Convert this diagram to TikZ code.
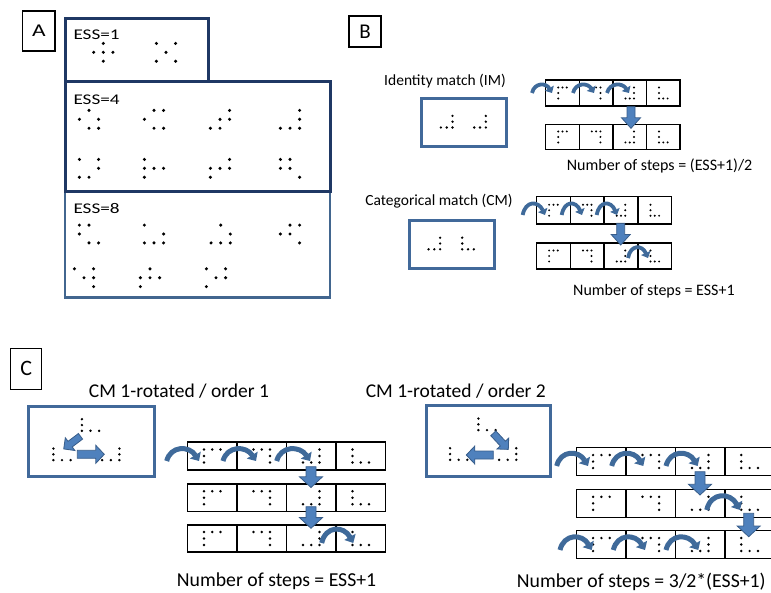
\documentclass[tikz,border=0pt]{standalone}
\usepackage{fontspec}
\setmainfont{Carlito}
\usetikzlibrary{arrows.meta}
\definecolor{navy}{HTML}{1F3864}
\definecolor{essblue}{HTML}{42668F}
\definecolor{boxblue}{HTML}{41699A}
\definecolor{arcblue}{HTML}{3F6A9A}
\definecolor{arrfill}{HTML}{4F81BD}
\definecolor{arrline}{HTML}{385D8A}
\def\TL{0/0,1/0,2/0,0/1,0/2}
\def\TR{0/0,1/0,2/0,2/1,2/2}
\def\BR{2/0,2/1,0/2,1/2,2/2}
\def\BL{0/0,0/1,0/2,1/2,2/2}
% cx cy dx dy r list
\newcommand{\dotpat}[6]{\foreach \px/\py in #6 {\fill (#1+\px*#3-#3, #2+\py*#4-#4) circle (#5pt);}}
% x0 y0 cellw h dx dy r
\newcommand{\tapeRow}[7]{%
  \draw[tapeline] (#1,#2) rectangle ++(4*#3,#4);
  \foreach \k in {1,2,3} {\draw[tapeline] (#1+\k*#3,#2) -- ++(0,#4);}
  \dotpat{#1+0.5*#3}{#2+0.5*#4}{#5}{#6}{#7}{\TL}
  \dotpat{#1+1.5*#3}{#2+0.5*#4}{#5}{#6}{#7}{\TR}
  \dotpat{#1+2.5*#3}{#2+0.5*#4}{#5}{#6}{#7}{\BR}
  \dotpat{#1+3.5*#3}{#2+0.5*#4}{#5}{#6}{#7}{\BL}}
% x y angle len shaftw headw headlen
\newcommand{\barrow}[7]{\filldraw[barrowst, shift={(#1,#2)}, rotate=#3] (0,-#5/2) -- (#4-#7,-#5/2) -- (#4-#7,-#6/2) -- (#4,0) -- (#4-#7,#6/2) -- (#4-#7,#5/2) -- (0,#5/2) -- cycle;}
% x0 x1 ybase ycontrol style
\newcommand{\carc}[5]{\draw[#5] (#1,#3) .. controls (#1+0.12*#2-0.12*#1, #4) and (#2-0.3*#2+0.3*#1, #4) .. (#2,#3);}
\begin{document}
\begin{tikzpicture}[x=1pt,y=-1pt,
  tapeline/.style={draw=black, line width=1.3pt},
  labelbox/.style={draw=black, line width=1.3pt, inner sep=0pt},
  barrowst/.style={fill=arrfill, draw=arrline, line width=0.8pt, line join=miter},
  arcB/.style={draw=arcblue, line width=3.8pt, -{Triangle[length=5.5pt,width=10pt]}},
  arcC/.style={draw=arcblue, line width=5pt, -{Triangle[length=7pt,width=12.5pt]}},
  txt/.style={inner sep=0pt, anchor=base}]
\useasboundingbox (0,0) rectangle (771,592);
% ---------- Panel A ----------
\node[labelbox, minimum width=32.3pt, minimum height=40pt] (labA) at (38.9,31) {\scalebox{1.3}[1]{\fontsize{18}{21}\selectfont A}};
\draw[essblue, line width=2.8pt] (65,191.7) rectangle (330,297.7);
\draw[navy, line width=3pt] (65,81.7) rectangle (330,191.7);
\draw[navy, line width=3pt] (65,18.3) rectangle (208.3,81);
\node[txt, anchor=base west] (ess1) at (73.3,39.6) {\scalebox{1.3}[1]{\fontsize{14.8}{17}\selectfont ESS=1}};
\node[txt, anchor=base west] (ess4) at (73.3,104.6) {\scalebox{1.3}[1]{\fontsize{14.8}{17}\selectfont ESS=4}};
\node[txt, anchor=base west] (ess8) at (73.3,213.6) {\scalebox{1.3}[1]{\fontsize{14.8}{17}\selectfont ESS=8}};
\def\adx{9.6}\def\ady{8.9}\def\ar{1.7}
\dotpat{103.3}{52.3}{\adx}{\ady}{\ar}{{1/0,0/1,1/1,2/1,1/2}}
\dotpat{166}{52.3}{\adx}{\ady}{\ar}{{0/0,2/0,1/1,0/2,2/2}}
\dotpat{89}{119.3}{\adx}{\ady}{\ar}{{1/0,0/1,2/1,1/2,2/2}}
\dotpat{154}{119.3}{\adx}{\ady}{\ar}{{1/0,2/0,0/1,1/2,2/2}}
\dotpat{220}{119.3}{\adx}{\ady}{\ar}{{2/0,1/1,2/1,0/2,1/2}}
\dotpat{290}{119.3}{\adx}{\ady}{\ar}{{2/0,2/1,0/2,1/2,2/2}}
\dotpat{89}{168.3}{\adx}{\ady}{\ar}{{0/0,2/0,2/1,0/2,1/2}}
\dotpat{154}{168.3}{\adx}{\ady}{\ar}{{0/0,0/1,1/1,2/1,0/2}}
\dotpat{220}{168.3}{\adx}{\ady}{\ar}{{2/0,0/1,1/1,2/1,0/2}}
\dotpat{290}{168.3}{\adx}{\ady}{\ar}{{0/0,1/0,0/1,1/1,2/2}}
\dotpat{89}{234}{\adx}{\ady}{\ar}{{0/0,1/0,0/1,1/2,2/2}}
\dotpat{154}{234}{\adx}{\ady}{\ar}{{0/0,2/1,0/2,1/2,2/2}}
\dotpat{220.7}{234}{\adx}{\ady}{\ar}{{1/0,2/1,0/2,1/2,2/2}}
\dotpat{290}{234}{\adx}{\ady}{\ar}{{1/0,2/0,0/1,1/1,2/2}}
\dotpat{84}{277.7}{\adx}{\ady}{\ar}{{0/0,2/0,1/1,2/1,2/2}}
\dotpat{150}{277.7}{\adx}{\ady}{\ar}{{1/0,0/1,1/1,2/1,0/2}}
\dotpat{216}{277.7}{\adx}{\ady}{\ar}{{0/0,2/0,1/1,2/1,0/2}}
% ---------- Panel B ----------
\node[labelbox, minimum width=32pt, minimum height=31pt] (labB) at (365,31.5) {\fontsize{21}{24}\selectfont B};
\node[txt] (imtitle) at (445,85.7) {\fontsize{15.5}{18}\selectfont Identity match (IM)};
\draw[boxblue, line width=3pt] (421.7,98.3) rectangle (506.7,146.5);
\dotpat{446.7}{121.7}{5.8}{5.8}{1.3}{\BR}
\dotpat{480}{121.7}{5.8}{5.8}{1.3}{\BR}
\tapeRow{545.7}{80}{33.6}{26}{4.3}{5.5}{1.1}
\tapeRow{545.7}{124.3}{33.6}{25.3}{4.3}{5.5}{1.1}
\barrow{631}{106.7}{-90}{21.6}{8}{19}{10.5}
\carc{532}{552}{93}{82.5}{arcB}
\carc{573}{594}{93}{82.5}{arcB}
\carc{607}{629}{93}{82.5}{arcB}
\node[txt, anchor=base west] (imsteps) at (566.7,170.2) {\fontsize{16}{19}\selectfont Number of steps = (ESS+1)/2};
\node[txt] (cmtitle) at (439,205) {\fontsize{15.5}{18}\selectfont Categorical match (CM)};
\draw[boxblue, line width=3pt] (409,220) rectangle (494,268.3);
\dotpat{434.3}{243.5}{5.8}{5.8}{1.3}{\BR}
\dotpat{468}{243.5}{5.8}{5.8}{1.3}{\BL}
\tapeRow{536.5}{196.5}{33.8}{27.5}{4.3}{5.5}{1.1}
\tapeRow{536.5}{243}{33.8}{26}{4.3}{5.5}{1.1}
\barrow{620.7}{223.3}{-90}{21.7}{8}{19}{10.5}
\carc{522.7}{545}{215}{200.5}{arcB}
\carc{561.7}{582}{215}{200.5}{arcB}
\carc{596.7}{617}{215}{200.5}{arcB}
\carc{628}{648}{258}{244.5}{arcB}
\node[txt, anchor=base west] (cmsteps) at (573,295.3) {\fontsize{16}{19}\selectfont Number of steps = ESS+1};
% ---------- Panel C ----------
\node[labelbox, minimum width=31pt, minimum height=41pt] (labC) at (26.2,368.8) {\fontsize{22}{25}\selectfont C};
\node[txt] (c1title) at (179,397.3) {\fontsize{19.5}{23}\selectfont CM 1-rotated / order 1};
\node[txt] (c2title) at (455.8,397.3) {\fontsize{19.5}{23}\selectfont CM 1-rotated / order 2};
% order 1
\draw[boxblue, line width=3pt] (28.3,406) rectangle (154,476.7);
\dotpat{90.5}{425}{8.6}{5.8}{1.35}{\BL}
\dotpat{62}{454.3}{8.6}{5.8}{1.35}{\BL}
\dotpat{110.8}{454.3}{8.6}{5.8}{1.35}{\BR}
\barrow{80.5}{436.3}{-143}{21}{7}{16}{8}
\barrow{77.3}{454.3}{0}{27}{8}{18}{8.5}
\tapeRow{187.5}{442}{49.5}{28}{8.3}{6.5}{1.35}
\tapeRow{187.5}{484}{49.5}{27.5}{8.3}{6.5}{1.35}
\tapeRow{187.5}{525}{49.5}{27}{8.3}{6.5}{1.35}
\barrow{311}{466.7}{-90}{20.8}{10}{23}{10.7}
\barrow{311}{506.7}{-90}{21.6}{10}{23}{10.7}
\carc{166.7}{199}{461}{445.5}{arcC}
\carc{223}{256}{461}{445.5}{arcC}
\carc{276.7}{310}{461}{445.5}{arcC}
\carc{321.7}{353.3}{543}{525.5}{arcC}
\node[txt, anchor=base west] (c1steps) at (176.7,586.5) {\fontsize{19.75}{23}\selectfont Number of steps = ESS+1};
% order 2
\draw[boxblue, line width=3pt] (426,405) rectangle (550,476.7);
\dotpat{487}{424.3}{8.6}{5.8}{1.35}{\BL}
\dotpat{458.7}{454}{8.6}{5.8}{1.35}{\BL}
\dotpat{507.7}{454}{8.6}{5.8}{1.35}{\BR}
\barrow{493.3}{433.3}{-47}{22}{7}{16}{8}
\barrow{493.3}{455}{180}{27}{8}{18}{8.5}
\tapeRow{576.7}{447.5}{49.4}{28}{8.3}{6.5}{1.35}
\tapeRow{576.7}{489.3}{49.4}{28}{8.3}{6.5}{1.35}
\tapeRow{576.7}{530.7}{49.4}{27.6}{8.3}{6.5}{1.35}
\barrow{700}{471.7}{-90}{23.3}{10}{23}{10.7}
\barrow{748.7}{513.3}{-90}{23.4}{10}{23}{10.7}
\carc{556.7}{588}{466}{450}{arcC}
\carc{611.7}{643.3}{466}{450}{arcC}
\carc{666}{697.7}{466}{450}{arcC}
\carc{706.7}{740}{510}{492}{arcC}
\carc{560}{591.7}{550}{533.5}{arcC}
\carc{613.3}{645}{550}{533.5}{arcC}
\carc{666}{698.3}{550}{533.5}{arcC}
\node[txt, anchor=base west] (c2steps) at (516.7,587) {\fontsize{19.75}{23}\selectfont Number of steps = 3/2*(ESS+1)};
\end{tikzpicture}
\end{document}
